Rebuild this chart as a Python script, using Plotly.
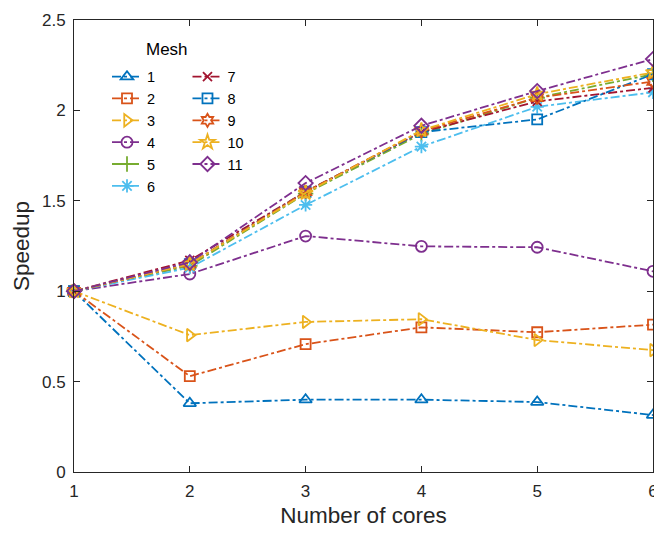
import plotly.graph_objects as go

cores = [1, 2, 3, 4, 5, 6]
mesh_names = ["1", "2", "3", "4", "5", "6", "7", "8", "9", "10", "11"]
s1 = [1.0, 0.38, 0.40, 0.40, 0.387, 0.315]
s2 = [1.0, 0.53, 0.707, 0.80, 0.773, 0.815]
s3 = [1.0, 0.757, 0.83, 0.845, 0.73, 0.674]
s4 = [1.0, 1.095, 1.305, 1.248, 1.243, 1.11]
s5 = [1.0, 1.14, 1.54, 1.87, 2.07, 2.20]
s6 = [1.0, 1.13, 1.477, 1.80, 2.02, 2.10]
s7 = [1.0, 1.17, 1.55, 1.88, 2.05, 2.125]
s8 = [1.0, 1.15, 1.55, 1.88, 1.95, 2.20]
s9 = [1.0, 1.15, 1.55, 1.885, 2.07, 2.16]
s10 = [1.0, 1.15, 1.543, 1.89, 2.09, 2.21]
s11 = [1.0, 1.16, 1.598, 1.915, 2.107, 2.284]
series = [s1, s2, s3, s4, s5, s6, s7, s8, s9, s10, s11]

colors = ["#0072BD", "#D95319", "#EDB120", "#7E2F8E", "#77AC30", "#4DBEEE",
          "#A2142F", "#0072BD", "#D95319", "#EDB120", "#7E2F8E"]
symbols = ["triangle-up-open", "square-open", "triangle-right-open", "circle-open",
           "cross-thin-open", "asterisk-open", "x-thin-open", "square-open",
           "hexagram-open", "star-open", "diamond-open"]
sizes = [11, 10, 11, 11, 11, 11, 9, 10, 10, 11, 11]

fig = go.Figure()
for i, (name, ys) in enumerate(zip(mesh_names, series)):
    fig.add_trace(go.Scatter(
        x=cores, y=ys, name=name, mode="lines+markers",
        line=dict(color=colors[i], width=1.8, dash="dashdot"),
        marker=dict(symbol=symbols[i], size=sizes[i], color=colors[i],
                    line=dict(color=colors[i], width=1.8)),
        legend="legend" if i < 6 else "legend2",
        cliponaxis=False,
    ))

FONT = "Liberation Sans, Arial, sans-serif"
axis_font = dict(family=FONT, size=17, color="#262626")
common = dict(showline=True, linecolor="#262626", linewidth=1, mirror="ticks",
              ticks="inside", ticklen=6, tickcolor="#262626", showgrid=False,
              zeroline=False, tickfont=axis_font, ticklabeloverflow="allow",
              automargin=False)

fig.update_layout(
    width=654, height=534,
    margin=dict(l=74, r=1, t=20, b=62, autoexpand=False),
    paper_bgcolor="white", plot_bgcolor="white",
    font=dict(family=FONT, color="#262626"),
    xaxis=dict(range=[1, 6], tickvals=cores, ticktext=[str(c) for c in cores],
               ticklabelstandoff=4,
               title=dict(text="Number of cores", font=dict(size=22.5, color="#262626"), standoff=6),
               **common),
    yaxis=dict(range=[0, 2.5], tickvals=[0, 0.5, 1, 1.5, 2, 2.5],
               ticktext=["0", "0.5", "1", "1.5", "2", "2.5"],
               ticklabelstandoff=4,
               title=dict(text="Speedup", font=dict(size=22.5, color="#262626"), standoff=6),
               **common),
    legend=dict(x=0.057, y=0.91, xanchor="left", yanchor="top",
                bgcolor="rgba(255,255,255,0)", font=dict(size=14.5, color="#000000", family=FONT),
                tracegroupgap=0, itemwidth=30),
    legend2=dict(x=0.196, y=0.91, xanchor="left", yanchor="top",
                 bgcolor="rgba(255,255,255,0)", font=dict(size=14.5, color="#000000", family=FONT),
                 tracegroupgap=0, itemwidth=30),
)
pw = 654 - 74 - 1
ph = 534 - 20 - 62
fig.add_annotation(text="Mesh", x=(167 - 74) / pw, y=(534 - 62 - 49) / ph,
                   xref="paper", yref="paper", xanchor="center", yanchor="middle",
                   showarrow=False, font=dict(size=17, color="#000000", family=FONT))

fig.write_html("out.html")
